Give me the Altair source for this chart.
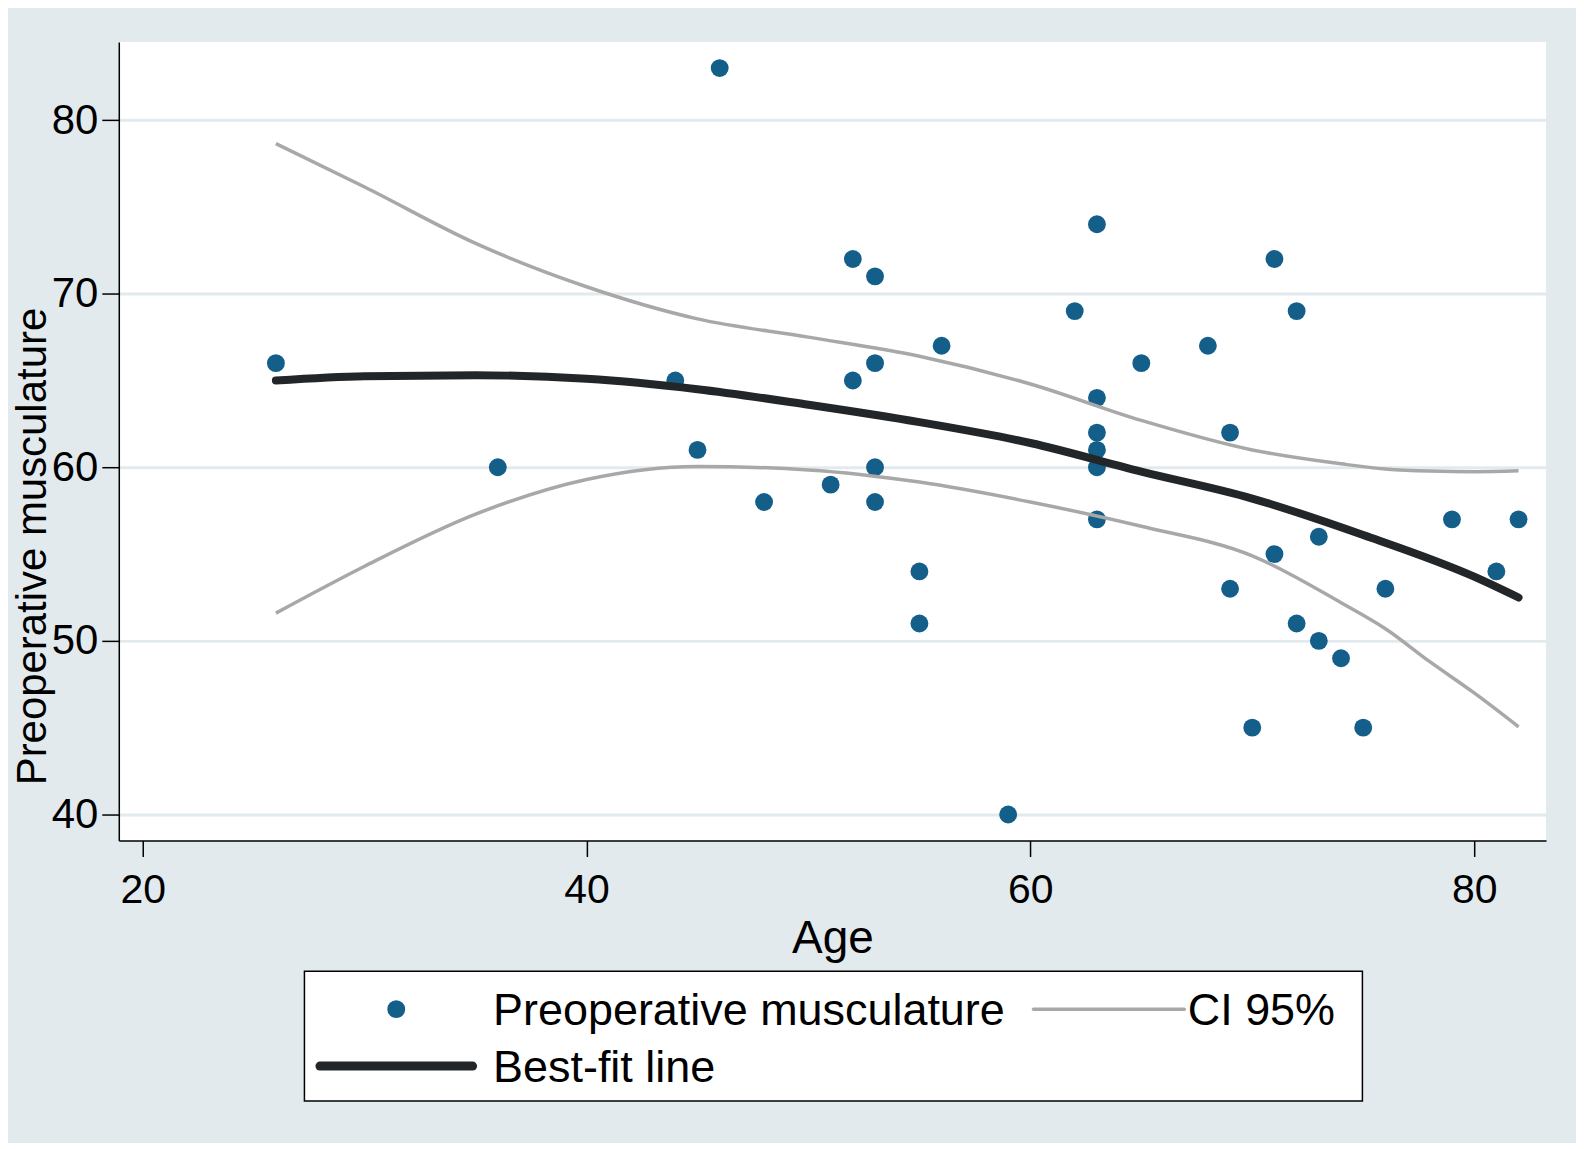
import altair as alt
import pandas as pd

# ---- data ----
age = [26, 36, 44, 45, 46, 48, 51, 52, 52, 53, 53, 53, 53, 55, 55, 56, 59, 62, 63, 63,
       63, 63, 63, 63, 65, 68, 69, 69, 70, 71, 71, 72, 72, 73, 73, 74, 75, 76, 79, 81, 82]
muscle = [66, 60, 65, 61, 83, 58, 59, 72, 65, 71, 66, 60, 58, 54, 51, 67, 40, 69, 74, 64,
          62, 61, 60, 57, 66, 67, 62, 53, 45, 72, 55, 69, 51, 56, 50, 49, 45, 53, 57, 54, 57]

fit_age = [26, 30, 35, 40, 45, 50, 55, 60, 65, 70, 75, 80, 82]
fit_val = [65.0, 65.25, 65.3, 65.1, 64.5, 63.6, 62.6, 61.4, 59.75, 58.2, 56.1, 53.7, 52.5]

ci_age = [26, 30, 35, 40, 45, 50, 55, 60, 65, 70, 74, 76, 78, 80, 82]
ci_upper = [78.65, 76.15, 72.9, 70.4, 68.55, 67.5, 66.4, 64.8, 62.7, 61.0, 60.2, 59.9, 59.78, 59.75, 59.8]
ci_lower = [51.6, 54.3, 57.3, 59.3, 60.05, 59.85, 59.15, 58.0, 56.6, 54.9, 52.2, 50.7, 48.8, 47.0, 45.05]

x_ticks = [20, 40, 60, 80]
y_ticks = [40, 50, 60, 70, 80]

pts_label = "Preoperative musculature"
ci_label = "CI 95%"
fit_label = "Best-fit line"
legend_labels = [pts_label, ci_label, fit_label]
legend_col = [0, 1, 0]
legend_row = [0, 0, 1]

# ---- styles ----
BG = "#e2eaee"
PT = "#135f8a"
FITC = "#222629"
CIC = "#a8a8a8"
FONT = "Liberation Sans"

pts = pd.DataFrame({"age": age, "muscle": muscle})
fit = pd.DataFrame({"age": fit_age, "val": fit_val})
ci = pd.DataFrame({"age": ci_age, "upper": ci_upper, "lower": ci_lower})

xsc = alt.Scale(domain=[18.92, 83.24], nice=False, zero=False)
ysc = alt.Scale(domain=[38.5, 84.5], nice=False, zero=False)

xax = alt.Axis(title="Age", values=x_ticks, grid=False, tickSize=16, labelPadding=14,
               labelFontSize=41, titleFontSize=46, titlePadding=6, format="d")
yax = alt.Axis(title="Preoperative musculature", values=y_ticks, grid=True, gridColor=BG,
               gridWidth=3, tickSize=17, labelPadding=4, labelFontSize=42,
               titleFontSize=42, titlePadding=-3, titleY=505, format="d")

points = alt.Chart(pts).mark_circle(size=320, color=PT, opacity=1).encode(
    x=alt.X("age:Q", scale=xsc, axis=xax),
    y=alt.Y("muscle:Q", scale=ysc, axis=yax),
)

ci_lines = alt.Chart(ci).transform_fold(["upper", "lower"], as_=["bound", "v"]).mark_line(
    color=CIC, strokeWidth=3.5, interpolate="monotone"
).encode(
    x=alt.X("age:Q", scale=xsc),
    y=alt.Y("v:Q", scale=ysc),
    detail="bound:N",
)

fit_line = alt.Chart(fit).mark_line(
    color=FITC, strokeWidth=8, interpolate="monotone", strokeCap="round"
).encode(
    x=alt.X("age:Q", scale=xsc),
    y=alt.Y("val:Q", scale=ysc),
)

main = alt.layer(points, ci_lines, fit_line).properties(
    width=1430, height=800,
    view=alt.ViewBackground(fill="white", strokeWidth=0),
)

# ---- legend panel ----
leg = pd.DataFrame({"label": legend_labels, "col": legend_col, "row": legend_row})
lx_sym = alt.Scale(domain=[0, 1], range=[92, 806])
lx_txt = alt.Scale(domain=[0, 1], range=[189, 885])
ly = alt.Scale(domain=[0, 1], range=[38, 95])
lbase = alt.Chart(leg)

leg_dot = lbase.transform_filter(alt.datum.label == pts_label).mark_circle(
    size=320, color=PT, opacity=1
).encode(x=alt.X("col:Q", scale=lx_sym, axis=None), y=alt.Y("row:Q", scale=ly, axis=None))

leg_ci = lbase.transform_filter(alt.datum.label == ci_label).mark_point(
    shape="stroke", size=151 * 151, strokeWidth=3.5, color=CIC, opacity=1, strokeCap="round"
).encode(x=alt.X("col:Q", scale=lx_sym, axis=None), y=alt.Y("row:Q", scale=ly, axis=None))

leg_fit = lbase.transform_filter(alt.datum.label == fit_label).mark_point(
    shape="stroke", size=153 * 153, strokeWidth=9, color=FITC, opacity=1, strokeCap="round"
).encode(x=alt.X("col:Q", scale=lx_sym, axis=None), y=alt.Y("row:Q", scale=ly, axis=None))

leg_txt = lbase.mark_text(
    align="left", baseline="alphabetic", dy=16, fontSize=45, font=FONT, color="black"
).encode(
    x=alt.X("col:Q", scale=lx_txt, axis=None),
    y=alt.Y("row:Q", scale=ly, axis=None),
    text="label:N",
)

legend = alt.layer(leg_dot, leg_ci, leg_fit, leg_txt).resolve_scale(x="independent").properties(
    width=1060, height=130,
    view=alt.ViewBackground(fill="white", stroke="black", strokeWidth=1.5),
)

spacer = alt.Chart(pd.DataFrame({"t": [""]})).mark_text().encode(
    text="t:N", x=alt.value(0), y=alt.value(0)
).properties(width=182, height=130, view=alt.ViewBackground(fill="transparent", strokeWidth=0))

legend_row_chart = alt.hconcat(spacer, legend, spacing=0)

chart = alt.vconcat(main, legend_row_chart, spacing=4).properties(
    background=BG,
    padding={"left": 3, "top": 33, "right": 30, "bottom": 40},
).configure_axis(
    labelFont=FONT, titleFont=FONT, labelColor="black", titleColor="black",
    domainColor="black", domainWidth=1.5, tickColor="black", tickWidth=1.5,
    titleFontWeight="normal",
).configure_view(strokeWidth=0)

chart.save("out.html", embed_options={"renderer": "svg", "actions": False})
